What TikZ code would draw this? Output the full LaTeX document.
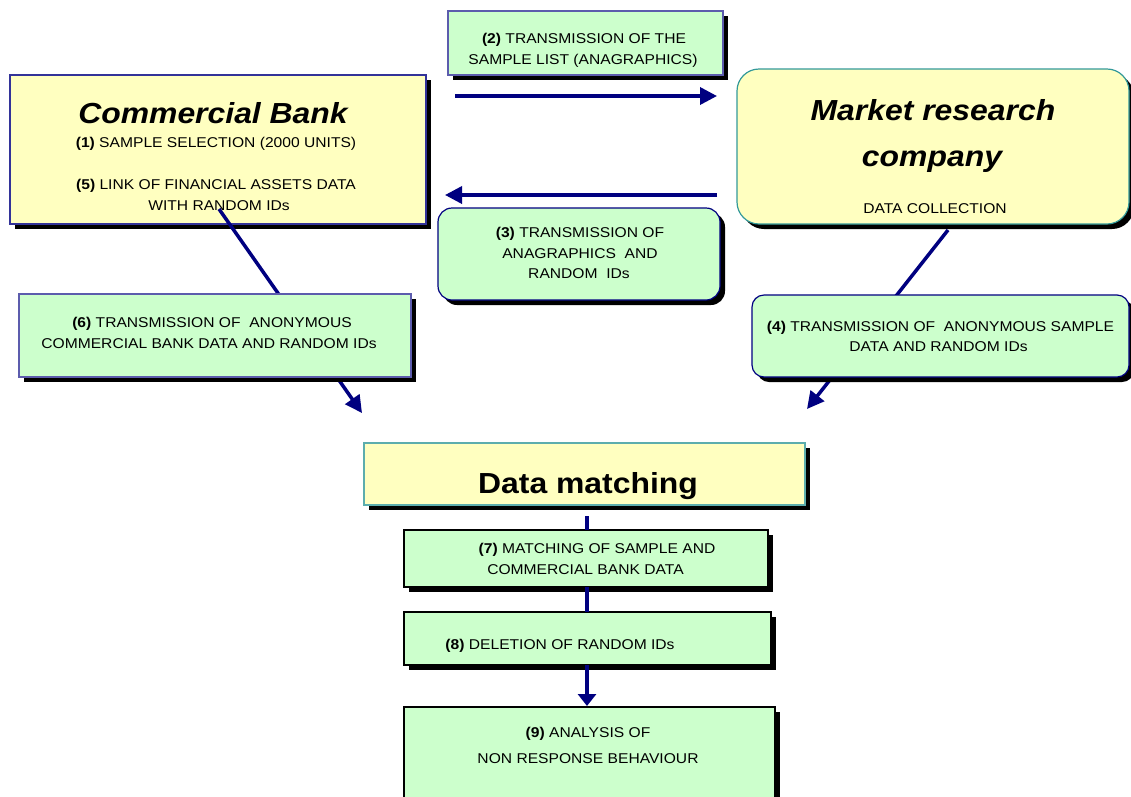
\documentclass[tikz,border=0pt]{standalone}
\usepackage{fontspec}
\setmainfont{Liberation Sans}[FakeStretch=1.1]
\usetikzlibrary{arrows.meta,shadows,calc}
\definecolor{yel}{HTML}{FFFFC0}
\definecolor{grn}{HTML}{CCFFCC}
\definecolor{navy}{HTML}{000080}
\definecolor{tealb}{HTML}{339999}
\definecolor{blueb}{HTML}{333399}
\tikzset{
  box/.style={draw, line width=1.2pt, inner sep=0pt, outer sep=0pt,
    drop shadow={shadow xshift=5pt, shadow yshift=-5pt, fill=black, opacity=1}},
  ybox/.style={box, fill=yel},
  gbox/.style={box, fill=grn},
  txt/.style={anchor=base, inner sep=0pt, font=\fontsize{14.2}{17}\selectfont},
  ttl/.style={anchor=base, inner sep=0pt, font=\fontsize{29}{34}\selectfont\bfseries\itshape},
  conn/.style={draw=navy, line width=3.5pt},
  arr/.style={conn, -{Triangle[length=17pt,width=17pt]}},
}
\begin{document}
\begin{tikzpicture}[x=1pt,y=-1pt]
\useasboundingbox (0,0) rectangle (1131,796);
\clip (0,0) rectangle (1131,796);
% boxes behind connectors
\node[ybox, draw=blueb, minimum width=416pt, minimum height=149pt] (CB) at (218,149.5) {};
\node[gbox, draw=blueb!80, minimum width=275pt, minimum height=64pt] (B2) at (585.5,43) {};
\node[ybox, draw=tealb, rounded corners=22pt, minimum width=392pt, minimum height=155pt] (MR) at (933,146.5) {};
\node[gbox, draw=navy, rounded corners=14pt, minimum width=282pt, minimum height=92pt] (B3) at (579,254) {};
\node[ybox, draw=tealb!80, minimum width=441pt, minimum height=62pt] (DM) at (584.5,474) {};
\node[gbox, draw=black, minimum width=364pt, minimum height=57pt] (B7) at (586,558.5) {};
\node[gbox, draw=black, minimum width=367pt, minimum height=53pt] (B8) at (587.5,638.5) {};
\node[gbox, draw=black, minimum width=371pt, minimum height=103pt] (B9) at (589.5,758.5) {};
% connector end points
\coordinate (a2s) at (455,96);
\coordinate (a2e) at (717,96);
\coordinate (a3s) at (717,195);
\coordinate (a3e) at (445,195);
\coordinate (cbs) at (219,209);
\coordinate (cbe) at (362,413);
\coordinate (mrs) at (948,230);
\coordinate (mre) at (807,409);
\coordinate (dms) at (587,516);
\draw[arr] (a2s) -- (a2e);
\draw[arr] (a3s) -- (a3e);
\draw[arr] (cbs) -- (cbe);
\draw[arr] (mrs) -- (mre);
\draw[conn] (dms) -- (dms |- B7.north);
\draw[conn] (B7.south -| dms) -- (B8.north -| dms);
\draw[conn, -{Triangle[length=12pt,width=18pt]}] (B8.south -| dms) -- ([yshift=1pt]B9.north -| dms);
% boxes in front of connectors
\node[gbox, draw=blueb!80, minimum width=392pt, minimum height=83pt] (B6) at (215,335.5) {};
\node[gbox, draw=navy, rounded corners=12pt, minimum width=377pt, minimum height=82pt] (B4) at (940.5,336) {};
% texts
\node[ttl] (t1a) at (213,123) {Commercial Bank};
\node[txt] (t1b) at (216,147) {\textbf{(1)} SAMPLE SELECTION (2000 UNITS)};
\node[txt] (t1c) at (216,189) {\textbf{(5)} LINK OF FINANCIAL ASSETS DATA};
\node[txt] (t1d) at (219,210) {WITH RANDOM IDs};
\node[txt] (t2a) at (584,43) {\textbf{(2)} TRANSMISSION OF THE};
\node[txt] (t2b) at (583,64) {SAMPLE LIST (ANAGRAPHICS)};
\node[ttl] (tma) at (933,120) {Market research};
\node[ttl] (tmb) at (932,166) {company};
\node[txt] (tmc) at (935,213) {DATA COLLECTION};
\node[txt] (t3a) at (580,237) {\textbf{(3)} TRANSMISSION OF};
\node[txt] (t3b) at (580,258) {ANAGRAPHICS\ \ AND};
\node[txt] (t3c) at (579,278) {RANDOM\ \ IDs};
\node[txt] (t6a) at (212,327) {\textbf{(6)} TRANSMISSION OF\ \ ANONYMOUS};
\node[txt] (t6b) at (209,348) {COMMERCIAL BANK DATA AND RANDOM IDs};
\node[txt] (t4a) at (940.5,331) {\textbf{(4)} TRANSMISSION OF\ \ ANONYMOUS SAMPLE};
\node[txt] (t4b) at (938.5,351) {DATA AND RANDOM IDs};
\node[anchor=base, inner sep=0pt, font=\fontsize{29}{34}\selectfont\bfseries] (tdm) at (588,493) {Data matching};
\node[txt] (t7a) at (597,553) {\textbf{(7)} MATCHING OF SAMPLE AND};
\node[txt] (t7b) at (585.5,574) {COMMERCIAL BANK DATA};
\node[txt] (t8) at (560,649) {\textbf{(8)} DELETION OF RANDOM IDs};
\node[txt] (t9a) at (588,737) {\textbf{(9)} ANALYSIS OF};
\node[txt] (t9b) at (588,763) {NON RESPONSE BEHAVIOUR};
\end{tikzpicture}
\end{document}
